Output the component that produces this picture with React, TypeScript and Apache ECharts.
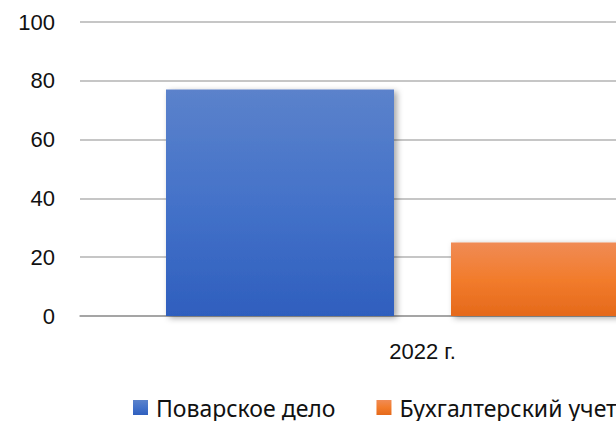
import React, { useEffect, useRef } from "react";
import * as echarts from "echarts";

const categories = ["2022 г."];
const seriesNames = ["Поварское дело", "Бухгалтерский учет"];
const cookingValues = [77];
const accountingValues = [25];
const yTicks = [0, 20, 40, 60, 80, 100];

const FONT = "'Liberation Sans', Arial, sans-serif";
const LEGEND_FONT = "'Noto Sans', 'Liberation Sans', sans-serif";

export default function App() {
  const ref = useRef<HTMLDivElement>(null);
  useEffect(() => {
    if (!ref.current) return;
    const chart = echarts.init(ref.current, undefined, { renderer: "svg" });
    const blue = new echarts.graphic.LinearGradient(0, 0, 0, 1, [
      { offset: 0, color: "#5B82CB" },
      { offset: 0.5, color: "#4472C9" },
      { offset: 1, color: "#2F5FBE" },
    ]);
    const orange = new echarts.graphic.LinearGradient(0, 0, 0, 1, [
      { offset: 0, color: "#F08B55" },
      { offset: 0.5, color: "#F27C2C" },
      { offset: 1, color: "#E5691B" },
    ]);
    const shadow = {
      shadowBlur: 6,
      shadowOffsetX: 3,
      shadowOffsetY: 2,
      shadowColor: "rgba(0,0,0,0.35)",
    };
    chart.setOption({
      animation: false,
      textStyle: { fontFamily: FONT },
      grid: { left: 80, top: 22, width: 685, height: 294 },
      legend: {
        left: 133,
        top: 396,
        padding: 0,
        itemWidth: 15,
        itemHeight: 15,
        itemGap: 41,
        icon: "rect",
        textStyle: { fontFamily: LEGEND_FONT, fontSize: 23, color: "#111", padding: [0, 0, 0, 3] },
        data: seriesNames,
      },
      xAxis: {
        type: "category",
        data: categories,
        axisLine: { lineStyle: { color: "#9a9a9a", width: 1.5 } },
        axisTick: { show: false },
        axisLabel: { fontFamily: FONT, fontSize: 22, color: "#111", margin: 24 },
      },
      yAxis: {
        type: "value",
        min: yTicks[0],
        max: yTicks[yTicks.length - 1],
        interval: 20,
        axisLine: { show: false },
        axisTick: { show: false },
        axisLabel: { fontFamily: FONT, fontSize: 22, color: "#111", margin: 25 },
        splitLine: { lineStyle: { color: "#b3b3b3", width: 1.5 } },
      },
      series: [
        {
          name: seriesNames[0],
          type: "bar",
          data: cookingValues,
          barWidth: 228,
          barGap: "25%",
          itemStyle: { color: blue, ...shadow },
        },
        {
          name: seriesNames[1],
          type: "bar",
          data: accountingValues,
          barWidth: 228,
          barGap: "25%",
          itemStyle: { color: orange, ...shadow },
        },
      ],
    });
    return () => chart.dispose();
  }, []);
  return (
    <div
      style={{
        position: "absolute",
        left: 0,
        top: 0,
        width: 616,
        height: 421,
        overflow: "hidden",
        background: "#fff",
      }}
    >
      <div ref={ref} style={{ width: 820, height: 421 }} />
    </div>
  );
}
